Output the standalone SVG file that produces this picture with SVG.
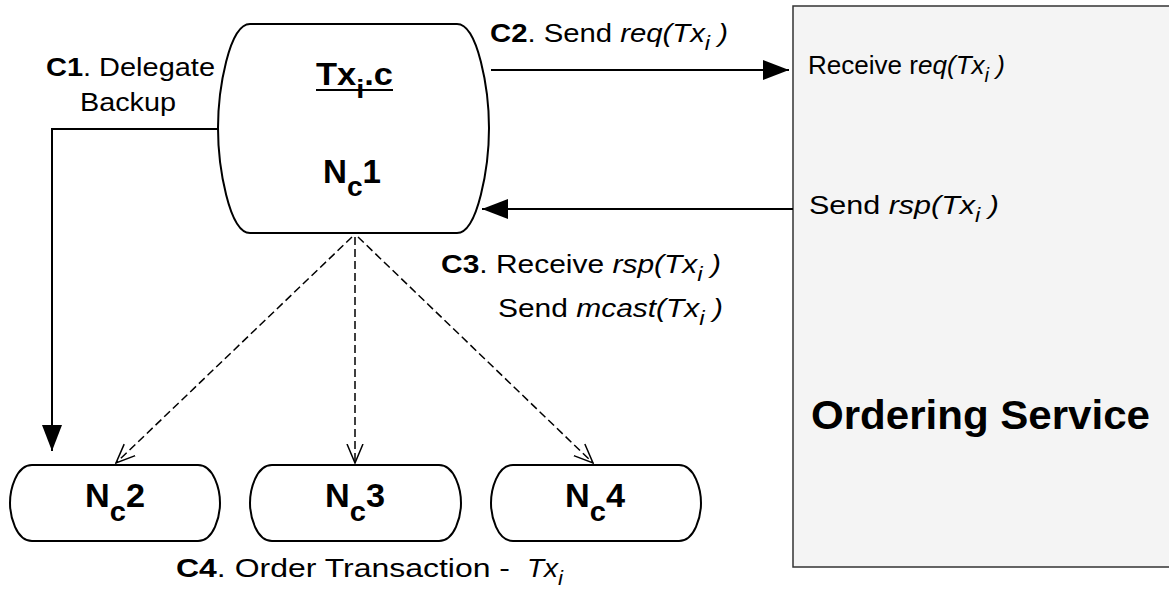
<svg xmlns="http://www.w3.org/2000/svg" width="1169" height="599" viewBox="0 0 1169 599">
  <style>
    text { font-family: "Liberation Sans", Arial, Helvetica, sans-serif; fill: #000; }
    .lbl { font-size: 25px; }
    .svc { font-size: 26px; }
    .node-shape { fill: #fff; stroke: #000; stroke-width: 2; }
    .b { font-weight: bold; }
    .it { font-style: italic; }
    .sub { font-size: 20px; }
    .solid { fill: none; stroke: #000; stroke-width: 2; }
    .dashed { fill: none; stroke: #000; stroke-width: 1.5; stroke-dasharray: 8 4; }
  </style>
  <defs>
    <marker id="arrow-filled" viewBox="0 0 26 20" refX="26" refY="10" markerWidth="26" markerHeight="20" markerUnits="userSpaceOnUse" orient="auto">
      <path d="M0,0 L26,10 L0,20 Z" fill="#000"/>
    </marker>
    <marker id="arrow-open" viewBox="0 0 20 18" refX="19" refY="9" markerWidth="20" markerHeight="18" markerUnits="userSpaceOnUse" orient="auto">
      <path d="M0,1 L19,9 L0,17" fill="none" stroke="#000" stroke-width="1.5"/>
    </marker>
  </defs>

  <rect width="1169" height="599" fill="#fff"/>

  <!-- Ordering service panel -->
  <g id="ordering-service">
    <rect x="793" y="6" width="420" height="561" fill="#f4f4f4" stroke="#333" stroke-width="1.5"/>
    <text class="svc" x="808" y="74" textLength="197" lengthAdjust="spacingAndGlyphs">Receive r<tspan class="it">eq(Tx<tspan class="sub" dy="8">i</tspan><tspan dy="-8"> )</tspan></tspan></text>
    <text class="svc" x="809" y="214" textLength="190" lengthAdjust="spacingAndGlyphs">Send <tspan class="it">rsp(Tx<tspan class="sub" dy="8">i</tspan><tspan dy="-8"> )</tspan></tspan></text>
    <text x="811" y="429" font-size="41" font-weight="bold" textLength="339" lengthAdjust="spacingAndGlyphs">Ordering Service</text>
  </g>

  <!-- Client node issuing the transaction -->
  <g id="node-nc1">
    <path class="node-shape" d="M250,24 H457 C478,24 489,90 489,128 C489,166 478,233 457,233 H250 C229,233 218,166 218,128 C218,90 229,24 250,24 Z"/>
    <text x="316" y="85" font-size="31" font-weight="bold" textLength="77" lengthAdjust="spacingAndGlyphs">Tx<tspan font-size="26" dy="13">i</tspan><tspan dy="-13">.c</tspan></text>
    <line x1="316" y1="90" x2="393" y2="90" stroke="#000" stroke-width="2"/>
    <text x="323" y="183" font-size="33" font-weight="bold" textLength="58" lengthAdjust="spacingAndGlyphs">N<tspan font-size="28" dy="13">c</tspan><tspan dy="-13">1</tspan></text>
  </g>

  <!-- Peer nodes receiving the multicast -->
  <g id="node-nc2">
    <path class="node-shape" d="M32,465 H198 C214,465 220,490 220,503 C220,516 214,541 198,541 H32 C16,541 10,516 10,503 C10,490 16,465 32,465 Z"/>
    <text x="85" y="507" font-size="33" font-weight="bold" textLength="60" lengthAdjust="spacingAndGlyphs">N<tspan font-size="28" dy="14">c</tspan><tspan dy="-14">2</tspan></text>
  </g>
  <g id="node-nc3">
    <path class="node-shape" d="M272,465 H439 C455,465 461,490 461,503 C461,516 455,541 439,541 H272 C256,541 250,516 250,503 C250,490 256,465 272,465 Z"/>
    <text x="325" y="507" font-size="33" font-weight="bold" textLength="60" lengthAdjust="spacingAndGlyphs">N<tspan font-size="28" dy="14">c</tspan><tspan dy="-14">3</tspan></text>
  </g>
  <g id="node-nc4">
    <path class="node-shape" d="M513,465 H679 C695,465 701,490 701,503 C701,516 695,541 679,541 H513 C497,541 491,516 491,503 C491,490 497,465 513,465 Z"/>
    <text x="565" y="507" font-size="33" font-weight="bold" textLength="60" lengthAdjust="spacingAndGlyphs">N<tspan font-size="28" dy="14">c</tspan><tspan dy="-14">4</tspan></text>
  </g>

  <!-- Connectors -->
  <g id="connectors">
    <path class="solid" d="M218,129 H52 V451" marker-end="url(#arrow-filled)"/>
    <path class="solid" d="M491,70 H789" marker-end="url(#arrow-filled)"/>
    <path class="solid" d="M793,209 H482" marker-end="url(#arrow-filled)"/>
    <path class="dashed" d="M352,237 L116,463" marker-end="url(#arrow-open)"/>
    <path class="dashed" d="M355,237 L355,463" marker-end="url(#arrow-open)"/>
    <path class="dashed" d="M358,237 L593,463" marker-end="url(#arrow-open)"/>
  </g>

  <!-- Step labels -->
  <g id="labels">
    <text class="lbl" x="46" y="76" textLength="169" lengthAdjust="spacingAndGlyphs"><tspan class="b">C1</tspan>. Delegate</text>
    <text class="lbl" x="80" y="111" textLength="96" lengthAdjust="spacingAndGlyphs">Backup</text>
    <text class="lbl" x="490" y="42" textLength="238" lengthAdjust="spacingAndGlyphs"><tspan class="b">C2</tspan>. Send <tspan class="it">req(Tx<tspan class="sub" dy="8">i</tspan><tspan dy="-8"> )</tspan></tspan></text>
    <text class="lbl" x="441" y="273" textLength="280" lengthAdjust="spacingAndGlyphs"><tspan class="b">C3</tspan>. Receive <tspan class="it">rsp(Tx<tspan class="sub" dy="8">i</tspan><tspan dy="-8"> )</tspan></tspan></text>
    <text class="lbl" x="498" y="317" textLength="225" lengthAdjust="spacingAndGlyphs">Send <tspan class="it">mcast(Tx<tspan class="sub" dy="8">i</tspan><tspan dy="-8"> )</tspan></tspan></text>
    <text class="lbl" x="176" y="577" textLength="334" lengthAdjust="spacingAndGlyphs"><tspan class="b">C4</tspan>. Order Transaction -</text>
    <text class="lbl it" x="527" y="577" textLength="36" lengthAdjust="spacingAndGlyphs">Tx<tspan class="sub" dy="8">i</tspan></text>
  </g>
</svg>
